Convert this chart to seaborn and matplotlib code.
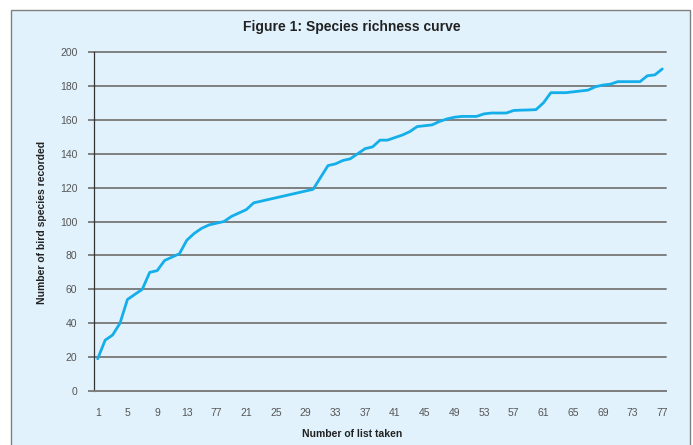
import numpy as np
import pandas as pd
import seaborn as sns
import matplotlib.pyplot as plt
from matplotlib.patches import Rectangle

# Data
lists_taken = list(range(1, 78))
species = [19, 30, 33, 40, 54, 57, 60, 70, 71, 77,
           79, 81, 89, 93, 96, 98, 99, 100, 103, 105,
           107, 111, 112, 113, 114, 115, 116, 117, 118, 119,
           126, 133, 134, 136, 137, 140, 143, 144, 148, 148,
           149.5, 151, 153, 156, 156.5, 157, 159, 160.5, 161.5, 162,
           162, 162, 163.5, 164, 164, 164, 165.5, 165.7, 165.8, 166,
           170, 176, 176, 176, 176.5, 177, 177.5, 179.5, 180.5, 181,
           182.5, 182.5, 182.5, 182.5, 186, 186.5, 190]

x_ticks = list(range(1, 78, 4))
x_tick_labels = ['1', '5', '9', '13', '77', '21', '25', '29', '33', '37',
                 '41', '45', '49', '53', '57', '61', '65', '69', '73', '77']
y_ticks = list(range(0, 201, 20))

df = pd.DataFrame({'lists': lists_taken, 'species': species})

panel = '#e1f2fc'
grid_col = '#7f7f7f'

sns.set_style('white')
plt.rcParams['font.family'] = ['Liberation Sans', 'DejaVu Sans']

fig = plt.figure(figsize=(6.93, 4.45), dpi=100)
fig.patch.set_facecolor('white')
bg = Rectangle((11 / 693, -0.05), 679 / 693, 1.05 - 10 / 445,
               transform=fig.transFigure, facecolor=panel,
               edgecolor='#808080', linewidth=1.0, zorder=-10)
fig.add_artist(bg)

ax = fig.add_axes([94 / 693, 1 - 391 / 445, 572 / 693, 339 / 445])
ax.set_facecolor('none')

sns.lineplot(data=df, x='lists', y='species', color='#14aeea', linewidth=2.0, ax=ax, zorder=3)

ax.set_xlim(0.5, 77.5)
ax.set_ylim(0, 200)
ax.set_xticks(x_ticks)
ax.set_xticklabels(x_tick_labels)
ax.set_yticks(y_ticks)
ax.yaxis.grid(True, color=grid_col, linewidth=1.4)
ax.set_axisbelow(True)
for gl in ax.get_ygridlines():
    gl.set_clip_on(False)  # keep the 200 line full width

for s in ['top', 'right']:
    ax.spines[s].set_visible(False)
ax.spines['left'].set_color('#333333')
ax.spines['left'].set_linewidth(0.9)
ax.spines['bottom'].set_color(grid_col)
ax.spines['bottom'].set_linewidth(1.4)

ax.tick_params(axis='y', length=4, width=1.4, color=grid_col, pad=8,
               labelsize=7.5, labelcolor='#555555', left=True)
ax.tick_params(axis='x', length=0, pad=12, labelsize=7.5, labelcolor='#555555')

ax.set_xlabel('')
ax.set_ylabel('')
fig.text(352 / 693, 1 - 434 / 445, 'Number of list taken', ha='center', va='center',
         fontsize=7.5, fontweight='bold', color='#222222')
fig.text(42 / 693, 1 - 222 / 445, 'Number of bird species recorded', ha='center', va='center',
         rotation=90, fontsize=7.5, fontweight='bold', color='#222222')
fig.text(352 / 693, 1 - 27 / 445, 'Figure 1: Species richness curve', ha='center', va='center',
         fontsize=10, fontweight='bold', color='#222222')

plt.savefig('out.png', dpi=100)
